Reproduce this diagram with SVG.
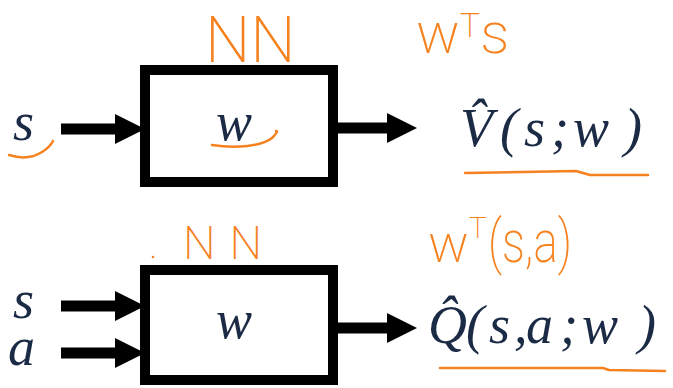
<svg xmlns="http://www.w3.org/2000/svg" width="673" height="388" viewBox="0 0 673 388">
<style>
.box{fill:#fff;stroke:#000;stroke-width:10}
.shaft{stroke:#000;stroke-width:11;fill:none}
.m{font-family:"Liberation Serif","DejaVu Serif",serif;font-style:italic;fill:#1c2b45;font-size:54px}
.hand{font-family:"Roboto","Noto Sans","Inter",sans-serif;font-weight:200;fill:#f5821f}
.ink{fill:none;stroke:#f5821f;stroke-width:2.5;stroke-linecap:round;stroke-linejoin:round}
</style>
<defs>
<marker id="ah" viewBox="0 0 30 30" refX="10" refY="15" markerWidth="30" markerHeight="30" markerUnits="userSpaceOnUse" orient="auto">
<path d="M0,0 L30,15 L0,30 z" fill="#000"/>
</marker>
</defs>
<rect width="673" height="388" fill="#fff"/>
<g id="connectors">
<path class="shaft" d="M61,129 H125" marker-end="url(#ah)"/>
<path class="shaft" d="M338,128 H397" marker-end="url(#ah)"/>
<path class="shaft" d="M61,306 H125" marker-end="url(#ah)"/>
<path class="shaft" d="M61,353 H125" marker-end="url(#ah)"/>
<path class="shaft" d="M338,328 H397" marker-end="url(#ah)"/>
</g>
<g id="node-v">
<rect class="box" x="145" y="70" width="188" height="112"/>
<text class="m" x="216" y="140" font-size="58">w</text>
</g>
<g id="node-q">
<rect class="box" x="145" y="270" width="188" height="110"/>
<text class="m" x="216" y="338" font-size="58">w</text>
</g>
<g id="input-s-top"><text class="m" x="13" y="140">s</text></g>
<g id="inputs-bottom"><text class="m" font-size="52"><tspan x="13" y="318">s</tspan><tspan x="8" y="365">a</tspan></text></g>
<g id="output-v">
<text class="m" x="460" y="146">V̂</text>
<text class="m" x="500 524 551 573 624" y="146">(s;w)</text>
</g>
<g id="output-q">
<text class="m" x="428" y="343">Q̂</text>
<text class="m" x="466 489 514 526 560 582 638" y="343">(s,a;w)</text>
</g>
<g id="annotations">
<text class="hand" x="205" y="62" font-size="64">NN</text>
<text class="hand" x="416" y="53" font-size="58">w<tspan font-size="34" dy="-16">T</tspan><tspan font-size="58" dy="16">s</tspan></text>
<circle cx="153" cy="257" r="1.3" fill="#f5821f"/>
<text class="hand" x="183" y="259" font-size="46" letter-spacing="14">NN</text>
<text class="hand" x="428" y="262" font-size="54">w<tspan font-size="30" dy="-24">T</tspan></text>
<text class="hand" x="488" y="262" font-size="60" textLength="84" lengthAdjust="spacingAndGlyphs">(s,a)</text>
<path class="ink" d="M9,155 Q28,161 42,152 Q50,147 53,141"/>
<path class="ink" d="M212,145 C236,149 262,146 272,138 Q279,131 276,131"/>
<path class="ink" d="M465,173 L576,171 L590,175 L648,175"/>
<path class="ink" d="M440,368 L603,368 L609,370 L665,371"/>
</g>
</svg>
